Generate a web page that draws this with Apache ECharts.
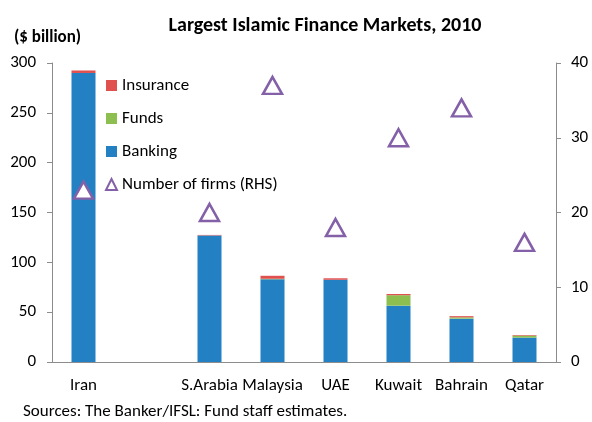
<!DOCTYPE html>
<html>
<head>
<meta charset="utf-8">
<script src="https://cdn.jsdelivr.net/npm/echarts@6/dist/echarts.min.js"></script>
<style>
	html, body { margin: 0; padding: 0; background: #fff; }
	#chart { width: 592px; height: 422px; }
</style>
</head>
<body>
<div id="chart"></div>
<script>
	// categories (second slot is an empty gap in the original)
	var countries = ['Iran', '', 'S.Arabia', 'Malaysia', 'UAE', 'Kuwait', 'Bahrain', 'Qatar'];
	// $ billion
	var banking = [290, '-', 127, 83, 82.5, 56.5, 43.5, 24.5];
	var funds = [0, '-', 0, 0.5, 0, 10.5, 1.3, 2];
	var insurance = [2.5, '-', 0.5, 3, 1.5, 1.2, 1.2, 0.6];
	// right hand side
	var numFirms = [23, '-', 20, 37, 18, 30, 34, 16];

	var font = 'Carlito, Calibri, Lato, sans-serif';
	var axisGray = '#8c8c8c';

	var chart = echarts.init(document.getElementById('chart'));
	var option = {
		animation: false,
		textStyle: { fontFamily: font },
		title: {
			text: 'Largest Islamic Finance Markets, 2010',
			left: 320,
			textAlign: 'center',
			top: 11,
			textStyle: { fontFamily: font, fontSize: 20, fontWeight: 'bold', color: '#000' }
		},
		graphic: [
			{
				type: 'text', left: 14, top: 29,
				style: { text: '($ billion)', font: 'bold 17px ' + font, fill: '#000' }
			},
			{
				type: 'text', left: 23, top: 403,
				style: { text: 'Sources: The Banker/IFSL: Fund staff estimates.', font: '17px ' + font, fill: '#000' }
			}
		],
		legend: {
			orient: 'vertical',
			left: 100,
			top: 72,
			itemWidth: 11,
			itemHeight: 11,
			itemGap: 16,
			textStyle: { fontFamily: font, fontSize: 17, color: '#000', lineHeight: 17 },
			data: [
				{ name: 'Insurance', icon: 'rect' },
				{ name: 'Funds', icon: 'rect' },
				{ name: 'Banking', icon: 'rect' },
				{ name: 'Number of firms (RHS)', icon: 'triangle' }
			]
		},
		grid: { left: 52, right: 36, top: 63, bottom: 60 },
		xAxis: {
			type: 'category',
			data: countries,
			axisLine: { lineStyle: { color: axisGray } },
			axisTick: { length: 5, lineStyle: { color: axisGray } },
			axisLabel: { interval: 0, color: '#000', fontSize: 17, fontFamily: font, margin: 15 }
		},
		yAxis: [
			{
				type: 'value', min: 0, max: 300, interval: 50,
				splitLine: { show: false },
				axisLine: { show: true, lineStyle: { color: axisGray } },
				axisTick: { show: true, length: 5, lineStyle: { color: axisGray } },
				axisLabel: { color: '#000', fontSize: 17, fontFamily: font, margin: 16 }
			},
			{
				type: 'value', min: 0, max: 40, interval: 10,
				splitLine: { show: false },
				axisLine: { show: true, lineStyle: { color: axisGray } },
				axisTick: { show: true, length: 5, lineStyle: { color: axisGray } },
				axisLabel: { color: '#000', fontSize: 17, fontFamily: font, margin: 15 }
			}
		],
		series: [
			{
				name: 'Banking', type: 'bar', stack: 'mkt', barWidth: 24,
				itemStyle: { color: '#2380c3' },
				data: banking
			},
			{
				name: 'Funds', type: 'bar', stack: 'mkt', barWidth: 24,
				itemStyle: { color: '#8cbf50' },
				data: funds
			},
			{
				name: 'Insurance', type: 'bar', stack: 'mkt', barWidth: 24,
				itemStyle: { color: '#e0504f' },
				data: insurance
			},
			{
				name: 'Number of firms (RHS)', type: 'line', yAxisIndex: 1,
				symbol: 'triangle', symbolSize: [19, 17],
				lineStyle: { width: 0, opacity: 0 },
				itemStyle: { color: '#ffffff', borderColor: '#8460a8', borderWidth: 2.5 },
				data: numFirms
			}
		]
	};
	chart.setOption(option);
</script>
</body>
</html>
